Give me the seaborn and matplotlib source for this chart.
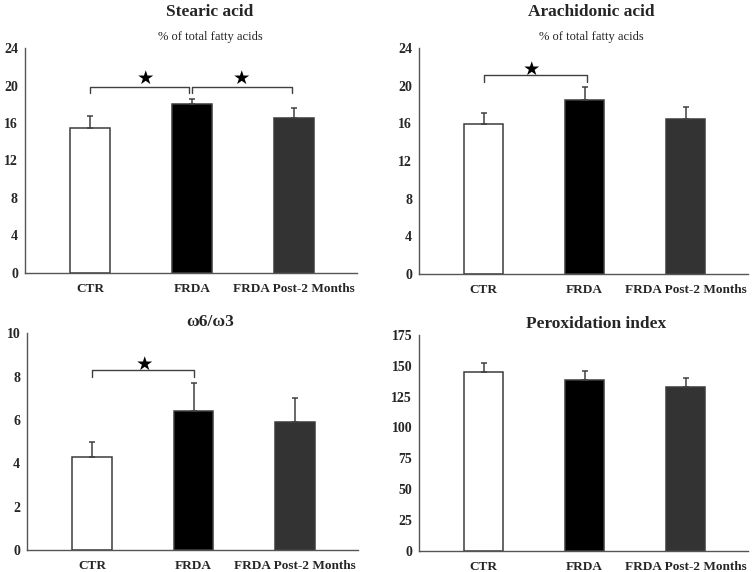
import numpy as np
import pandas as pd
import seaborn as sns
import matplotlib.pyplot as plt

groups = ["CTR", "FRDA", "FRDA Post-2 Months"]
bar_colors = ["#ffffff", "#000000", "#333333"]

stearic_mean = [15.5, 18.0, 16.5]
stearic_sd = [1.2, 0.6, 1.05]
arachidonic_mean = [15.9, 18.45, 16.5]
arachidonic_sd = [1.25, 1.45, 1.2]
omega_mean = [4.3, 6.4, 5.9]
omega_sd = [0.7, 1.3, 1.1]
perox_mean = [145.0, 138.5, 133.0]
perox_sd = [7.5, 7.0, 6.8]

titles = ["Stearic acid", "Arachidonic acid", "\u03c96/\u03c93", "Peroxidation index"]
subtitle = "% of total fatty acids"
y_max = [24, 24, 10, 175]
y_step = [4, 4, 2, 25]

# significance brackets: (x start, x end, bracket level, drop to, star x, star y)
stearic_sig = [(0.0, 0.97, 19.85, 19.2, 0.54, 20.8), (1.0, 1.98, 19.85, 19.2, 1.49, 20.8)]
arachidonic_sig = [(0.0, 1.02, 21.1, 20.4, 0.47, 21.75)]
omega_sig = [(0.0, 1.0, 8.3, 7.98, 0.52, 8.55)]

sns.set_style("white")
plt.rcParams["font.family"] = ["Liberation Serif", "DejaVu Serif"]


def drawPanel(ax, means, sds, title, ymax, ystep, sig, sub=None, title_x=0.55):
    df = pd.DataFrame({"group": groups, "value": means})
    sns.barplot(data=df, x="group", y="value", hue="group", palette=bar_colors,
                width=0.39, edgecolor="#3c3c3c", linewidth=1.1, errorbar=None,
                legend=False, ax=ax, zorder=2)
    ax.errorbar(x=np.arange(len(groups)), y=means, yerr=[np.zeros(len(sds)), sds],
                fmt="none", ecolor="#404040", elinewidth=1.1, capsize=2, capthick=1.1, zorder=3)
    for x0, x1, lvl, drop, sx, sy in sig:
        ax.plot([x0, x0, x1, x1], [drop, lvl, lvl, drop], color="#404040", lw=1.0, zorder=3)
        ax.text(sx, sy, "\u2605", ha="center", va="center", fontsize=14,
                family=["DejaVu Sans"], color="black")
    ax.set_xlim(-0.64, 2.62)
    ax.set_ylim(0, ymax)
    ax.set_yticks(np.arange(0, ymax + 0.1, ystep))
    ax.set_xlabel("")
    ax.set_ylabel("")
    sns.despine(ax=ax)
    for s in ["left", "bottom"]:
        ax.spines[s].set_color("#555555")
        ax.spines[s].set_linewidth(1.0)
    ax.tick_params(axis="y", direction="out", length=3, width=0.8, color="#555555",
                   pad=2, labelsize=10)
    ax.tick_params(axis="x", length=0, pad=7, labelsize=9.5)
    for lab in ax.get_xticklabels() + ax.get_yticklabels():
        lab.set_fontweight("bold")
    if sub:
        ax.annotate(title, xy=(title_x, 1), xycoords="axes fraction", xytext=(0, 26),
                    textcoords="offset points", ha="center", va="center",
                    fontsize=12.5, fontweight="bold")
        ax.annotate(sub, xy=(title_x, 1), xycoords="axes fraction", xytext=(0, 8),
                    textcoords="offset points", ha="center", va="center", fontsize=9)
    else:
        ax.annotate(title, xy=(title_x, 1), xycoords="axes fraction", xytext=(0, 8),
                    textcoords="offset points", ha="center", va="center",
                    fontsize=12.5, fontweight="bold")


fig = plt.figure(figsize=(7.55, 5.72), dpi=100)
ax1 = fig.add_axes([0.033, 0.523, 0.440, 0.393])
ax2 = fig.add_axes([0.555, 0.521, 0.436, 0.395])
ax3 = fig.add_axes([0.036, 0.0385, 0.438, 0.379])
ax4 = fig.add_axes([0.555, 0.0367, 0.436, 0.378])

drawPanel(ax1, stearic_mean, stearic_sd, titles[0], y_max[0], y_step[0], stearic_sig, subtitle, 0.557)
drawPanel(ax2, arachidonic_mean, arachidonic_sd, titles[1], y_max[1], y_step[1], arachidonic_sig, subtitle, 0.523)
drawPanel(ax3, omega_mean, omega_sd, titles[2], y_max[2], y_step[2], omega_sig, None, 0.553)
drawPanel(ax4, perox_mean, perox_sd, titles[3], y_max[3], y_step[3], [], None, 0.538)

fig.savefig("out.png", dpi=100)
